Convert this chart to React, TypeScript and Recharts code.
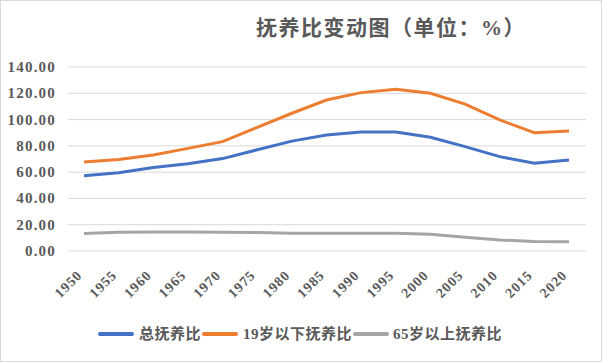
import { LineChart, Line, XAxis, YAxis, CartesianGrid } from 'recharts';

const years = ['1950', '1955', '1960', '1965', '1970', '1975', '1980', '1985', '1990', '1995', '2000', '2005', '2010', '2015', '2020'];
const totalRatio = [57.2, 59.5, 63.5, 66.4, 70.3, 77.0, 83.6, 88.2, 90.6, 90.6, 86.5, 79.4, 71.8, 66.7, 69.2];
const youngRatio = [67.7, 69.6, 73.0, 78.1, 83.2, 94.1, 104.8, 114.9, 120.5, 123.0, 120.0, 111.8, 99.7, 90.0, 91.3];
const oldRatio = [13.4, 14.2, 14.4, 14.4, 14.3, 14.0, 13.6, 13.6, 13.6, 13.5, 12.7, 10.5, 8.4, 7.2, 7.1];
const yTicks = [0, 20, 40, 60, 80, 100, 120, 140];

const seriesNames = ['总抚养比', '19岁以下抚养比', '65岁以上抚养比'];
const colors = ['#4472C4', '#ED7D31', '#A5A5A5'];

const data = years.map((year, i) => ({
  year,
  total: totalRatio[i],
  young: youngRatio[i],
  old: oldRatio[i],
}));

const FONT = "'Liberation Serif', 'Noto Sans CJK SC', serif";
const NUM_FONT = "'Liberation Serif', serif";
const TEXT = '#595959';

// rotated year labels, -45deg like Excel
const YearTick = ({ x, y, payload }: any) => {
  const ax = x - 1;
  const ay = y + 17;
  return (
    <text
      x={ax}
      y={ay}
      transform={`rotate(-45, ${ax}, ${ay})`}
      textAnchor="end"
      fontFamily={NUM_FONT}
      fontWeight="bold"
      fontSize={14}
      letterSpacing={1}
      fill={TEXT}
    >
      {payload.value}
    </text>
  );
};

const ValueTick = ({ x, y, payload }: any) => (
  <text
    x={x}
    y={y}
    dy={5}
    textAnchor="end"
    fontFamily={NUM_FONT}
    fontWeight="bold"
    fontSize={15}
    letterSpacing={1.2}
    fill={TEXT}
  >
    {Number(payload.value).toFixed(2)}
  </text>
);

export default function App() {
  const legendPos = [
    { line: 98, text: 139 },
    { line: 202, text: 243 },
    { line: 353, text: 393 },
  ];

  return (
    <div style={{ position: 'absolute', left: 0, top: 0, width: 602, height: 362, background: '#fff' }}>
      <LineChart width={602} height={362} data={data} margin={{ top: 67, right: 16, bottom: 51, left: 0 }}>
        <text
          x={391}
          y={35}
          textAnchor="middle"
          fontFamily={FONT}
          fontWeight="bold"
          fontSize={21}
          letterSpacing={1.5}
          fill={TEXT}
        >
          抚养比变动图（单位：%）
        </text>
        <CartesianGrid vertical={false} stroke="#D9D9D9" strokeWidth={1} />
        <XAxis
          dataKey="year"
          axisLine={false}
          tickLine={false}
          height={60}
          interval={0}
          padding={{ left: 16, right: 17 }}
          tick={<YearTick />}
        />
        <YAxis
          width={68}
          domain={[0, 140]}
          ticks={yTicks}
          axisLine={false}
          tickLine={false}
          tickSize={0}
          tickMargin={12}
          tick={<ValueTick />}
        />
        <Line dataKey="total" stroke={colors[0]} strokeWidth={3} dot={false} type="linear" isAnimationActive={false} />
        <Line dataKey="young" stroke={colors[1]} strokeWidth={3} dot={false} type="linear" isAnimationActive={false} />
        <Line dataKey="old" stroke={colors[2]} strokeWidth={3} dot={false} type="linear" isAnimationActive={false} />
      </LineChart>

      {seriesNames.map((name, i) => (
        <div key={name}>
          <div
            style={{
              position: 'absolute',
              left: legendPos[i].line,
              top: 332,
              width: 36,
              height: 4,
              borderRadius: 2,
              background: colors[i],
            }}
          />
          <div
            style={{
              position: 'absolute',
              left: legendPos[i].text,
              top: 323,
              fontFamily: FONT,
              fontWeight: 'bold',
              fontSize: 15,
              lineHeight: '22px',
              letterSpacing: 0.5,
              color: TEXT,
              whiteSpace: 'nowrap',
            }}
          >
            {name}
          </div>
        </div>
      ))}

      <div
        style={{
          position: 'absolute',
          left: 0,
          top: 0,
          width: 602,
          height: 362,
          boxSizing: 'border-box',
          border: '1px solid #D9D9D9',
          pointerEvents: 'none',
        }}
      />
    </div>
  );
}
